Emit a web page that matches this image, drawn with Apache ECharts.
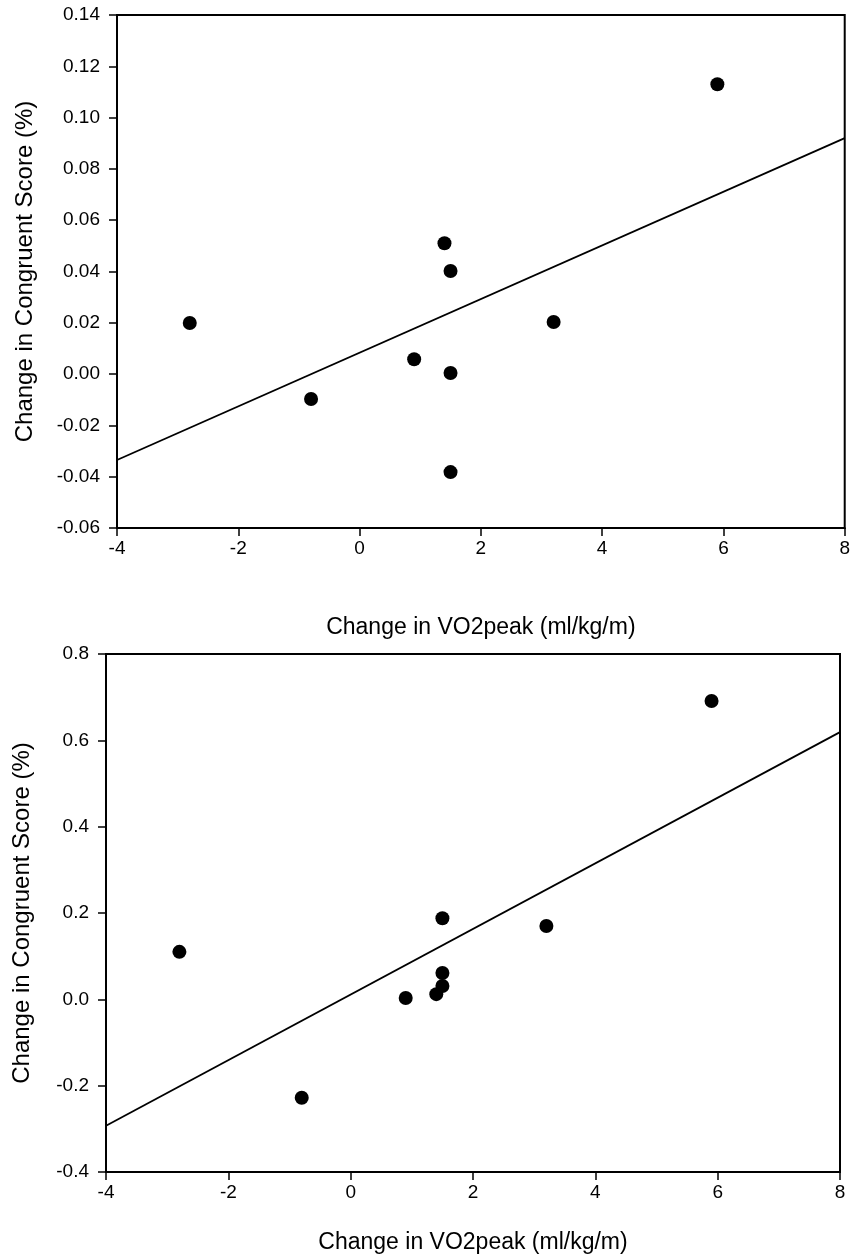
<!DOCTYPE html>
<html>
<head>
<meta charset="utf-8">
<script src="https://cdn.jsdelivr.net/npm/echarts@6/dist/echarts.min.js"></script>
<style>
html,body{margin:0;padding:0;background:#fff;}
#chart{width:853px;height:1260px;}
</style>
</head>
<body>
<div id="chart"></div>
<script>
// Data
const vo2Change = [-2.8, -0.8, 0.9, 1.4, 1.5, 1.5, 1.5, 3.2, 5.9];
const congruentTop = [0.0199, -0.0097, 0.0058, 0.051, 0.0402, 0.0004, -0.0382, 0.0203, 0.113];
const fitTopX = [-4, 8];
const fitTopY = [-0.0335, 0.092];

const vo2ChangeBottom = [-2.8, -0.8, 0.9, 1.4, 1.5, 1.5, 1.5, 3.2, 5.9];
const congruentBottom = [0.11, -0.228, 0.003, 0.012, 0.031, 0.061, 0.188, 0.17, 0.691];
const fitBottomX = [-4, 8];
const fitBottomY = [-0.293, 0.619];

const xTitle = 'Change in VO2peak (ml/kg/m)';
const yTitle = 'Change in Congruent Score (%)';

const FONT = '"Liberation Sans", Arial, sans-serif';
const pairs = (xs, ys) => xs.map((x, i) => [x, ys[i]]);

function xAxis(gridIndex, gap) {
  return {
    type: 'value', gridIndex, min: -4, max: 8, interval: 2,
    name: xTitle, nameLocation: 'middle', nameGap: gap,
    nameTextStyle: {fontFamily: FONT, fontSize: 23, color: '#000'},
    axisLine: {show: true, onZero: false, lineStyle: {color: '#000', width: 2}},
    axisTick: {show: true, inside: false, length: 8, lineStyle: {color: '#000', width: 1.5}},
    axisLabel: {fontFamily: FONT, fontSize: 19, color: '#000', margin: 11},
    splitLine: {show: false}
  };
}
function yAxis(gridIndex, min, max, interval, dec, gap) {
  return {
    type: 'value', gridIndex, min, max, interval,
    name: yTitle, nameLocation: 'middle', nameGap: gap, nameRotate: 90,
    nameTextStyle: {fontFamily: FONT, fontSize: 24, color: '#000'},
    axisLine: {show: true, onZero: false, lineStyle: {color: '#000', width: 2}},
    axisTick: {show: true, inside: false, length: 8, lineStyle: {color: '#000', width: 1.5}},
    axisLabel: {fontFamily: FONT, fontSize: 19, color: '#000', margin: 17,
      formatter: v => v.toFixed(dec)},
    splitLine: {show: false}
  };
}

const chart = echarts.init(document.getElementById('chart'), null, {renderer: 'canvas'});
chart.setOption({
  animation: false,
  backgroundColor: '#fff',
  grid: [
    {left: 117, right: 8, top: 15, height: 513, show: true, borderColor: '#000', borderWidth: 2, backgroundColor: 'transparent'},
    {left: 106, right: 13, top: 654, height: 518, show: true, borderColor: '#000', borderWidth: 2, backgroundColor: 'transparent'}
  ],
  xAxis: [xAxis(0, 88), xAxis(1, 59)],
  yAxis: [yAxis(0, -0.06, 0.14, 0.02, 2, 80), yAxis(1, -0.4, 0.8, 0.2, 1, 72)],
  series: [
    {type: 'line', xAxisIndex: 0, yAxisIndex: 0, data: pairs(fitTopX, fitTopY),
      symbol: 'none', lineStyle: {color: '#000', width: 1.8}, z: 2},
    {type: 'scatter', xAxisIndex: 0, yAxisIndex: 0, data: pairs(vo2Change, congruentTop),
      symbol: 'circle', symbolSize: 14, itemStyle: {color: '#000', opacity: 1}, z: 3},
    {type: 'line', xAxisIndex: 1, yAxisIndex: 1, data: pairs(fitBottomX, fitBottomY),
      symbol: 'none', lineStyle: {color: '#000', width: 1.8}, z: 2},
    {type: 'scatter', xAxisIndex: 1, yAxisIndex: 1, data: pairs(vo2ChangeBottom, congruentBottom),
      symbol: 'circle', symbolSize: 14, itemStyle: {color: '#000', opacity: 1}, z: 3}
  ]
});
</script>
</body>
</html>
